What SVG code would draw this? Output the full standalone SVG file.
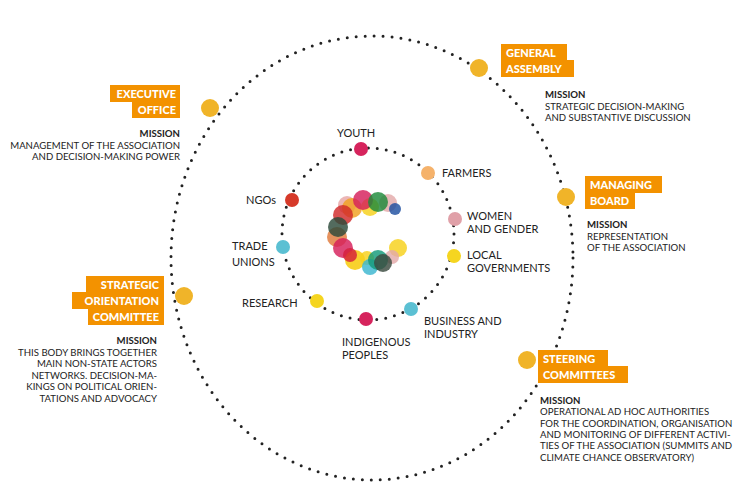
<svg xmlns="http://www.w3.org/2000/svg" width="750" height="500" viewBox="0 0 750 500">
<style>
.ring{fill:none;stroke:#222;stroke-width:3;stroke-linecap:round;stroke-dasharray:0 9}
.box{fill:#F39200}
.bt{font-family:Lato,"Open Sans",sans-serif;font-weight:900;font-size:11px;fill:#fff}
.m{font-family:Lato,"Open Sans",sans-serif;font-size:9.6px;fill:#222}
.mb{font-weight:bold}
.l{font-family:Lato,"Open Sans",sans-serif;font-size:11px;fill:#222}
.od{fill:#F0B429}
.c circle{opacity:0.82}
</style>
<rect width="750" height="500" fill="#fff"/>
<g id="connectors">
<ellipse class="ring" cx="372" cy="258" rx="201" ry="222"/>
<circle class="ring" cx="368" cy="234" r="86"/>
</g>
<g id="logo" class="c">
<circle cx="347" cy="205" r="9" fill="#E8A6A6"/>
<circle cx="352" cy="208" r="10" fill="#F0A020"/>
<circle cx="370" cy="207" r="9" fill="#F7D11A"/>
<circle cx="388" cy="203" r="9" fill="#E3A9A9"/>
<circle cx="363" cy="200" r="10" fill="#D61F5A"/>
<circle cx="378" cy="202" r="10" fill="#1E8A3A"/>
<circle cx="395" cy="209" r="6" fill="#1E4FA0"/>
<circle cx="343" cy="215" r="10" fill="#D12A2A"/>
<circle cx="337" cy="237" r="10" fill="#E07A3A"/>
<circle cx="338" cy="227" r="10" fill="#2D4A3A"/>
<circle cx="343" cy="248" r="10" fill="#D61F5A"/>
<circle cx="355" cy="260" r="10" fill="#F7C800"/>
<circle cx="350" cy="255" r="7" fill="#D61F3A"/>
<circle cx="367" cy="258" r="7" fill="#F7D11A"/>
<circle cx="370" cy="267" r="8" fill="#3BB6D0"/>
<circle cx="398" cy="248" r="9" fill="#F7D11A"/>
<circle cx="392" cy="257" r="7" fill="#E3A9A9"/>
<circle cx="378" cy="260" r="10" fill="#139A7A"/>
<circle cx="383" cy="263" r="9" fill="#3A4A40"/>
</g>
<g id="youth"><circle cx="361" cy="149" r="7" fill="#D6245D"/><text class="l" x="337" y="137">YOUTH</text></g>
<g id="farmers"><circle cx="428" cy="173" r="7" fill="#F5B26B"/><text class="l" x="442" y="177">FARMERS</text></g>
<g id="women"><circle cx="455" cy="219" r="7" fill="#E0A0A8"/><text class="l" x="467" y="220">WOMEN</text><text class="l" x="467" y="233">AND GENDER</text></g>
<g id="local"><circle cx="454" cy="256" r="7" fill="#F5D520"/><text class="l" x="467" y="259">LOCAL</text><text class="l" x="467" y="272">GOVERNMENTS</text></g>
<g id="business"><circle cx="411" cy="309" r="7" fill="#5BC0D3"/><text class="l" x="424" y="325">BUSINESS AND</text><text class="l" x="424" y="338">INDUSTRY</text></g>
<g id="indigenous"><circle cx="366" cy="319" r="7" fill="#D6245D"/><text class="l" x="342" y="346">INDIGENOUS</text><text class="l" x="342" y="359">PEOPLES</text></g>
<g id="research"><circle cx="317" cy="301" r="7" fill="#F5D520"/><text class="l" x="242" y="307">RESEARCH</text></g>
<g id="trade"><circle cx="283" cy="247" r="7" fill="#5BC0D3"/><text class="l" x="232" y="250">TRADE</text><text class="l" x="232" y="266">UNIONS</text></g>
<g id="ngos"><circle cx="292" cy="200" r="7" fill="#D63A2A"/><text class="l" x="246" y="204">NGOs</text></g>

<g id="executive">
<circle class="od" cx="210" cy="108" r="9"/>
<rect class="box" x="110" y="85" width="70" height="17"/><rect class="box" x="132" y="101" width="48" height="17"/>
<text class="bt" x="176" y="98" text-anchor="end">EXECUTIVE</text><text class="bt" x="176" y="114" text-anchor="end">OFFICE</text>
<text class="m" text-anchor="end" x="180" y="137"><tspan class="mb">MISSION</tspan><tspan x="180" dy="11.5">MANAGEMENT OF THE ASSOCIATION</tspan><tspan x="180" dy="11.5">AND DECISION-MAKING POWER</tspan></text>
</g>
<g id="general">
<circle class="od" cx="479" cy="68" r="9"/>
<rect class="box" x="501" y="44" width="66" height="17"/><rect class="box" x="501" y="60" width="73" height="17"/>
<text class="bt" x="506" y="57">GENERAL</text><text class="bt" x="506" y="73">ASSEMBLY</text>
<text class="m" x="545" y="98"><tspan class="mb">MISSION</tspan><tspan x="545" dy="11.5">STRATEGIC DECISION-MAKING</tspan><tspan x="545" dy="11.5">AND SUBSTANTIVE DISCUSSION</tspan></text>
</g>
<g id="managing">
<circle class="od" cx="566" cy="197" r="9"/>
<rect class="box" x="585" y="176" width="77" height="17"/><rect class="box" x="585" y="192" width="50" height="17"/>
<text class="bt" x="590" y="189">MANAGING</text><text class="bt" x="590" y="205">BOARD</text>
<text class="m" x="587" y="228"><tspan class="mb">MISSION</tspan><tspan x="587" dy="11.5">REPRESENTATION</tspan><tspan x="587" dy="11.5">OF THE ASSOCIATION</tspan></text>
</g>
<g id="steering">
<circle class="od" cx="527" cy="360" r="9"/>
<rect class="box" x="538" y="350" width="70" height="17"/><rect class="box" x="538" y="366" width="90" height="17"/>
<text class="bt" x="543" y="363">STEERING</text><text class="bt" x="543" y="379">COMMITTEES</text>
<text class="m" x="540" y="404"><tspan class="mb">MISSION</tspan><tspan x="540" dy="11.3">OPERATIONAL AD HOC AUTHORITIES</tspan><tspan x="540" dy="11.3">FOR THE COORDINATION, ORGANISATION</tspan><tspan x="540" dy="11.3">AND MONITORING OF DIFFERENT ACTIVI-</tspan><tspan x="540" dy="11.3">TIES OF THE ASSOCIATION (SUMMITS AND</tspan><tspan x="540" dy="11.3">CLIMATE CHANCE OBSERVATORY)</tspan></text>
</g>
<g id="strategic">
<circle class="od" cx="184" cy="296" r="9"/>
<rect class="box" x="86" y="276" width="78" height="17"/><rect class="box" x="72" y="292" width="92" height="17"/><rect class="box" x="88" y="308" width="76" height="17"/>
<text class="bt" x="159" y="289" text-anchor="end">STRATEGIC</text><text class="bt" x="159" y="305" text-anchor="end">ORIENTATION</text><text class="bt" x="159" y="321" text-anchor="end">COMMITTEE</text>
<text class="m" text-anchor="end" x="157" y="344"><tspan class="mb">MISSION</tspan><tspan x="157" dy="11.5">THIS BODY BRINGS TOGETHER</tspan><tspan x="157" dy="11.5">MAIN NON-STATE ACTORS</tspan><tspan x="157" dy="11.5">NETWORKS. DECISION-MA-</tspan><tspan x="157" dy="11.5">KINGS ON POLITICAL ORIEN-</tspan><tspan x="157" dy="11.5">TATIONS AND ADVOCACY</tspan></text>
</g>
</svg>
